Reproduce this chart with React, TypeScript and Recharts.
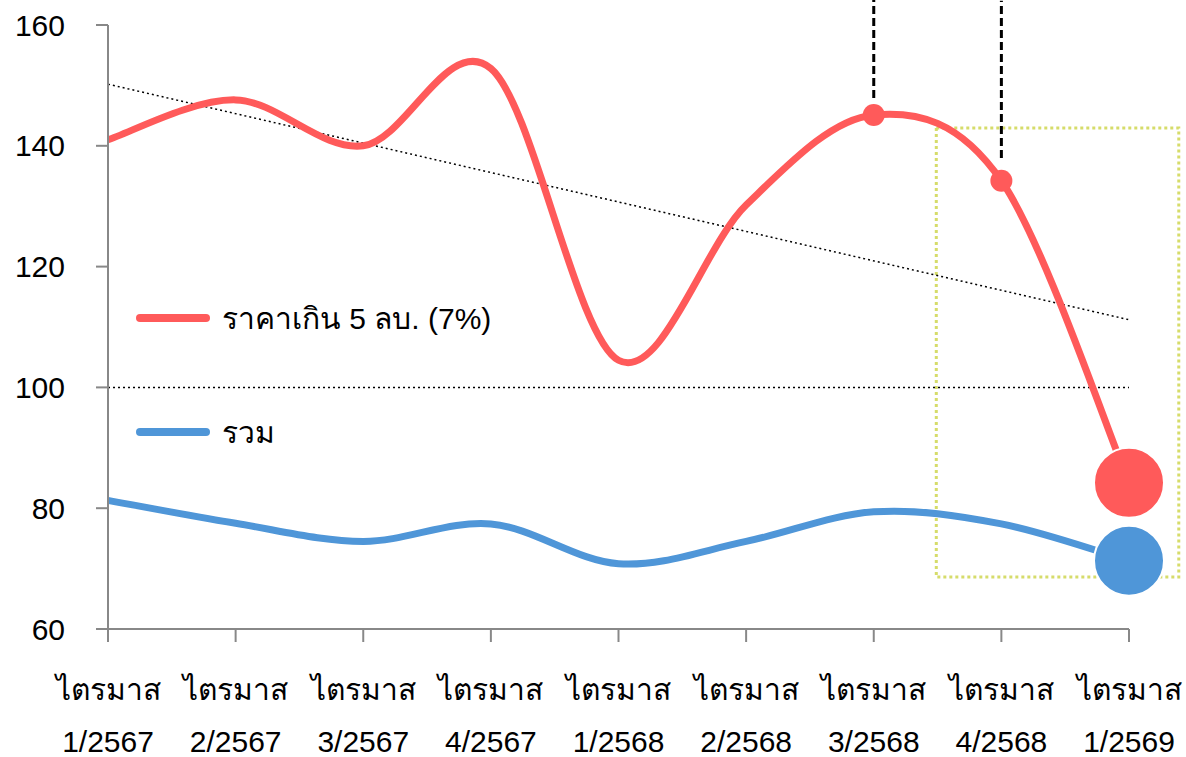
import React from 'react';
import {
  LineChart, Line, XAxis, YAxis, ReferenceLine, ReferenceArea,
} from 'recharts';

const quarters = ['1/2567', '2/2567', '3/2567', '4/2567', '1/2568', '2/2568', '3/2568', '4/2568', '1/2569'];
const premiumSeries = [141, 147.6, 140, 152.8, 104.5, 130.2, 145.1, 134.2, 84.2];
const totalSeries = [81.3, 77.5, 74.5, 77.4, 70.8, 74.5, 79.4, 77.4, 71.3];
const yTicks = [60, 80, 100, 120, 140, 160];

// trend line end values
const trendStart = 150.2;
const trendEnd = 111.2;
// dashed markers above two quarters
const dropIdx = [6, 7];
const dropFrom = [147.9, 138.0];
const dropTo = [164.5, 164];
// highlight box
const boxX = [6.49, 8.39];
const boxY = [68.6, 142.95];

const RED = '#FF5A5A';
const BLUE = '#4F96D8';
const FONT = 'Helvetica, Arial, "Liberation Sans", sans-serif';

const data = quarters.map((q, i) => ({ i, q, premium: premiumSeries[i], total: totalSeries[i] }));

// Excel-like smooth curve (Catmull-Rom through points)
const smoothCurve = (context: any) => {
  let pts: number[][] = [];
  return {
    areaStart() {},
    areaEnd() {},
    lineStart() { pts = []; },
    point(x: number, y: number) { pts.push([+x, +y]); },
    lineEnd() {
      if (!pts.length) return;
      context.moveTo(pts[0][0], pts[0][1]);
      for (let k = 0; k < pts.length - 1; k++) {
        const p0 = pts[k - 1] || pts[k];
        const p1 = pts[k];
        const p2 = pts[k + 1];
        const p3 = pts[k + 2] || pts[k + 1];
        context.bezierCurveTo(
          p1[0] + (p2[0] - p0[0]) / 6, p1[1] + (p2[1] - p0[1]) / 6,
          p2[0] - (p3[0] - p1[0]) / 6, p2[1] - (p3[1] - p1[1]) / 6,
          p2[0], p2[1],
        );
      }
    },
  };
};

const makeDot = (color: string, small: number[]) => (props: any) => {
  const { cx, cy, index } = props;
  if (index === quarters.length - 1) {
    return <circle key={`d${index}`} cx={cx} cy={cy} r={35} fill={color} stroke="#fff" strokeWidth={2} />;
  }
  if (small.includes(index)) {
    return <circle key={`d${index}`} cx={cx} cy={cy} r={11} fill={color} />;
  }
  return <g key={`d${index}`} />;
};

const QuarterTick = ({ x, y, payload }: any) => (
  <g transform={`translate(${x},${y})`}>
    <text textAnchor="middle" fontSize={30} fill="#000" fontFamily={FONT}>
      <tspan x={0} y={56}>ไตรมาส</tspan>
      <tspan x={0} y={108}>{quarters[payload.value]}</tspan>
    </text>
  </g>
);

const legendItems = [
  { label: 'ราคาเกิน 5 ลบ. (7%)', color: RED, top: 298 },
  { label: 'รวม', color: BLUE, top: 412 },
];

export default function App() {
  return (
    <div style={{ position: 'absolute', left: 0, top: 0, width: 1186, height: 757, background: '#fff' }}>
      <LineChart width={1186} height={757} data={data} margin={{ top: 25, right: 57, left: 0, bottom: 0 }}>
        <ReferenceArea
          x1={boxX[0]} x2={boxX[1]} y1={boxY[0]} y2={boxY[1]}
          fill="none" stroke="#D6DC6A" strokeWidth={3} strokeDasharray="3 3" ifOverflow="visible"
        />
        <XAxis
          dataKey="i" type="number" domain={[0, 8]} ticks={quarters.map((_, i) => i)}
          stroke="#888" strokeWidth={2} tickSize={13} height={128}
          tick={<QuarterTick />} interval={0}
        />
        <YAxis
          domain={[60, 160]} ticks={yTicks} width={108}
          stroke="#888" strokeWidth={2} tickSize={12} tickMargin={31}
          tick={{ fill: '#000', fontSize: 30, fontFamily: FONT }}
        />
        <ReferenceLine y={100} stroke="#000" strokeWidth={1.5} strokeDasharray="2 3" />
        <ReferenceLine
          segment={[{ x: 0, y: trendStart }, { x: 8, y: trendEnd }]}
          stroke="#000" strokeWidth={1.5} strokeDasharray="2 3"
        />
        {dropIdx.map((xi, k) => (
          <ReferenceLine
            key={xi}
            segment={[{ x: xi, y: dropFrom[k] }, { x: xi, y: dropTo[k] }]}
            stroke="#000" strokeWidth={3} strokeDasharray="8 4" ifOverflow="visible"
          />
        ))}
        <Line
          dataKey="total" type={smoothCurve as any} stroke={BLUE} strokeWidth={7}
          dot={makeDot(BLUE, [])} activeDot={false} isAnimationActive={false}
        />
        <Line
          dataKey="premium" type={smoothCurve as any} stroke={RED} strokeWidth={7}
          dot={makeDot(RED, dropIdx)} activeDot={false} isAnimationActive={false}
        />
      </LineChart>
      {legendItems.map(it => (
        <div key={it.label} style={{
          position: 'absolute', left: 136, top: it.top, height: 40, display: 'flex', alignItems: 'center',
          whiteSpace: 'nowrap', fontFamily: FONT, fontSize: 30, color: '#000',
        }}>
          <span style={{ display: 'inline-block', width: 74, height: 8, borderRadius: 4, background: it.color, marginRight: 12 }} />
          <span>{it.label}</span>
        </div>
      ))}
    </div>
  );
}
